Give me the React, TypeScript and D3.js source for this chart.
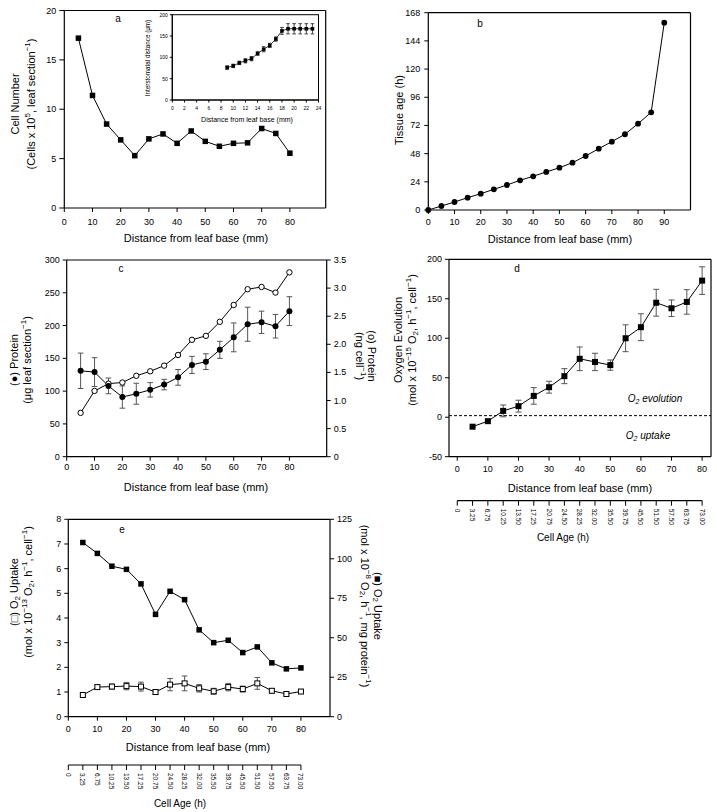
import React from 'react';
import * as d3 from 'd3';

const FONT = '"Liberation Sans", Arial, Helvetica, sans-serif';

// ---------- Panel a ----------
const distA = [5, 10, 15, 20, 25, 30, 35, 40, 45, 50, 55, 60, 65, 70, 75, 80];
const cellNumber = [17.2, 11.4, 8.5, 6.9, 5.3, 7.0, 7.5, 6.55, 7.8, 6.75, 6.25, 6.55, 6.6, 8.05, 7.55, 5.55];
const aTicksX = [0, 10, 20, 30, 40, 50, 60, 70, 80];
const aTicksY = [0, 5, 10, 15, 20];

// inset
const insetDist = [9, 10, 11, 12, 13, 14, 15, 16, 17, 18, 19, 20, 21, 22, 23];
const insetValue = [76, 80, 87, 92, 97, 109, 119, 128, 143, 162, 167, 167, 167, 167, 167];
const insetErr = [4, 4, 4, 5, 5, 4, 6, 5, 5, 8, 12, 12, 12, 12, 12];
const insetTicksX = [0, 2, 4, 6, 8, 10, 12, 14, 16, 18, 20, 22, 24];
const insetTicksY = [0, 50, 100, 150, 200];

// ---------- Panel b ----------
const distB = [0, 5, 10, 15, 20, 25, 30, 35, 40, 45, 50, 55, 60, 65, 70, 75, 80, 85, 90];
const tissueAge = [0, 3.4, 6.8, 10.5, 13.9, 17.6, 21.3, 25.3, 28.7, 32.4, 36, 40.3, 46, 52.2, 58.2, 64.5, 73.5, 83.2, 159.5];
const bTicksX = [0, 10, 20, 30, 40, 50, 60, 70, 80, 90];
const bTicksY = [0, 24, 48, 72, 96, 120, 144, 168];

// ---------- Panel c ----------
const distC = [5, 10, 15, 20, 25, 30, 35, 40, 45, 50, 55, 60, 65, 70, 75, 80];
const proteinSection = [131, 129, 108, 91, 96, 102, 110, 121, 140, 145, 163, 182, 202, 205, 199, 222];
const proteinSectionErr = [27, 22, 12, 17, 16, 11, 8, 12, 13, 12, 13, 22, 26, 17, 18, 22];
const proteinCell = [0.78, 1.17, 1.30, 1.32, 1.44, 1.52, 1.62, 1.81, 2.08, 2.15, 2.40, 2.70, 2.98, 3.02, 2.92, 3.28];
const cTicksX = [0, 10, 20, 30, 40, 50, 60, 70, 80];
const cTicksY = [0, 50, 100, 150, 200, 250, 300];
const cTicksY2 = [0, 0.5, 1.0, 1.5, 2.0, 2.5, 3.0, 3.5];

// ---------- Panel d ----------
const distD = [5, 10, 15, 20, 25, 30, 35, 40, 45, 50, 55, 60, 65, 70, 75, 80];
const o2Evolution = [-12, -5, 8, 14, 27, 38, 52, 74, 70, 66, 100, 114, 145, 138, 146, 173];
const o2EvolutionErr = [0, 0, 7.5, 7.5, 10.5, 7.5, 9.5, 15, 11, 6.5, 17, 17, 17, 10.5, 15.5, 17.5];
const dTicksX = [0, 10, 20, 30, 40, 50, 60, 70, 80];
const dTicksY = [-50, 0, 50, 100, 150, 200];

// ---------- Panel e ----------
const distE = [5, 10, 15, 20, 25, 30, 35, 40, 45, 50, 55, 60, 65, 70, 75, 80];
const o2UptakeCell = [0.88, 1.2, 1.22, 1.24, 1.22, 1.0, 1.3, 1.35, 1.15, 1.03, 1.2, 1.12, 1.35, 1.05, 0.92, 1.02];
const o2UptakeCellErr = [0.05, 0.07, 0.1, 0.15, 0.18, 0.1, 0.25, 0.3, 0.15, 0.12, 0.15, 0.12, 0.24, 0.08, 0.05, 0.05];
const o2UptakeProtein = [110.3, 103.4, 95.3, 93.3, 84.1, 64.8, 79.4, 74.1, 55.0, 46.9, 48.4, 40.6, 44.2, 34.1, 30.3, 30.9];
const eTicksX = [0, 10, 20, 30, 40, 50, 60, 70, 80];
const eTicksY = [0, 1, 2, 3, 4, 5, 6, 7, 8];
const eTicksY2 = [0, 25, 50, 75, 100, 125];

// ---------- Cell age axis ----------
const cellAgeDist = [0, 5, 10, 15, 20, 25, 30, 35, 40, 45, 50, 55, 60, 65, 70, 75, 80];
const cellAgeLabels = ['0', '3.25', '6.75', '10.25', '13.50', '17.25', '20.75', '24.50', '28.25', '32.00', '35.50', '39.75', '45.50', '51.50', '57.50', '63.75', '73.00'];

type Scale = d3.ScaleLinear<number, number>;

function LeftAxis({ x, y, ticks, fs = 9, len = 4, gap = 3, fmt }: { x: number; y: Scale; ticks: number[]; fs?: number; len?: number; gap?: number; fmt?: (t: number) => string }) {
  const r = y.range();
  return (
    <g>
      <line x1={x} x2={x} y1={r[0]} y2={r[1]} stroke="#000" strokeWidth={1.2} />
      {ticks.map((t) => (
        <g key={t}>
          <line x1={x - len} x2={x} y1={y(t)} y2={y(t)} stroke="#000" strokeWidth={1} />
          <text x={x - len - gap} y={y(t)} textAnchor="end" dominantBaseline="central" fontSize={fs}>
            {fmt ? fmt(t) : String(t)}
          </text>
        </g>
      ))}
    </g>
  );
}

function RightAxis({ x, y, ticks, fs = 9, len = 4, gap = 3, fmt }: { x: number; y: Scale; ticks: number[]; fs?: number; len?: number; gap?: number; fmt?: (t: number) => string }) {
  const r = y.range();
  return (
    <g>
      <line x1={x} x2={x} y1={r[0]} y2={r[1]} stroke="#000" strokeWidth={1.2} />
      {ticks.map((t) => (
        <g key={t}>
          <line x1={x} x2={x + len} y1={y(t)} y2={y(t)} stroke="#000" strokeWidth={1} />
          <text x={x + len + gap} y={y(t)} textAnchor="start" dominantBaseline="central" fontSize={fs}>
            {fmt ? fmt(t) : String(t)}
          </text>
        </g>
      ))}
    </g>
  );
}

function BottomAxis({ y, x, ticks, fs = 9, len = 4, labelY, fmt }: { y: number; x: Scale; ticks: number[]; fs?: number; len?: number; labelY: number; fmt?: (t: number) => string }) {
  const r = x.range();
  return (
    <g>
      <line x1={r[0]} x2={r[1]} y1={y} y2={y} stroke="#000" strokeWidth={1.2} />
      {ticks.map((t) => (
        <g key={t}>
          <line x1={x(t)} x2={x(t)} y1={y} y2={y + len} stroke="#000" strokeWidth={1} />
          <text x={x(t)} y={labelY} textAnchor="middle" dominantBaseline="central" fontSize={fs}>
            {fmt ? fmt(t) : String(t)}
          </text>
        </g>
      ))}
    </g>
  );
}

function ErrorBars({ xs, ys, errs, x, y, cap = 2.5, color = '#555' }: { xs: number[]; ys: number[]; errs: number[]; x: Scale; y: Scale; cap?: number; color?: string }) {
  return (
    <g stroke={color} strokeWidth={1}>
      {xs.map((xv, i) =>
        errs[i] > 0 ? (
          <g key={i}>
            <line x1={x(xv)} x2={x(xv)} y1={y(ys[i] - errs[i])} y2={y(ys[i] + errs[i])} />
            <line x1={x(xv) - cap} x2={x(xv) + cap} y1={y(ys[i] - errs[i])} y2={y(ys[i] - errs[i])} />
            <line x1={x(xv) - cap} x2={x(xv) + cap} y1={y(ys[i] + errs[i])} y2={y(ys[i] + errs[i])} />
          </g>
        ) : null
      )}
    </g>
  );
}

function linePath(xs: number[], ys: number[], x: Scale, y: Scale) {
  const gen = d3
    .line<number>()
    .x((_, i) => x(xs[i]))
    .y((v) => y(v));
  return gen(ys) || '';
}

function Squares({ xs, ys, x, y, size, fill = '#000' }: { xs: number[]; ys: number[]; x: Scale; y: Scale; size: number; fill?: string }) {
  return (
    <g>
      {xs.map((xv, i) => (
        <rect key={i} x={x(xv) - size / 2} y={y(ys[i]) - size / 2} width={size} height={size} fill={fill} stroke="#000" strokeWidth={fill === '#000' ? 0 : 1} />
      ))}
    </g>
  );
}

function Circles({ xs, ys, x, y, r, fill = '#000' }: { xs: number[]; ys: number[]; x: Scale; y: Scale; r: number; fill?: string }) {
  return (
    <g>
      {xs.map((xv, i) => (
        <circle key={i} cx={x(xv)} cy={y(ys[i])} r={r} fill={fill} stroke="#000" strokeWidth={fill === '#000' ? 0 : 1} />
      ))}
    </g>
  );
}

function CellAgeAxis({ x, y, titleX, titleY }: { x: Scale; y: number; titleX: number; titleY: number }) {
  return (
    <g>
      <line x1={x(0)} x2={x(80)} y1={y} y2={y} stroke="#000" strokeWidth={1.2} />
      {cellAgeDist.map((d, i) => (
        <g key={d}>
          <line x1={x(d)} x2={x(d)} y1={y} y2={y + 5} stroke="#000" strokeWidth={1} />
          <text transform={`translate(${x(d)},${y + 8}) rotate(90)`} textAnchor="start" dominantBaseline="central" fontSize={6.5}>
            {cellAgeLabels[i]}
          </text>
        </g>
      ))}
      <text x={titleX} y={titleY} textAnchor="middle" dominantBaseline="central" fontSize={10}>
        Cell Age (h)
      </text>
    </g>
  );
}

function PanelA() {
  const x = d3.scaleLinear().domain([0, 92.7]).range([64.3, 325.7]);
  const y = d3.scaleLinear().domain([0, 20]).range([208, 10.5]);
  const xi = d3.scaleLinear().domain([0, 24]).range([172.3, 318.5]);
  const yi = d3.scaleLinear().domain([0, 200]).range([100, 14.7]);
  return (
    <g>
      <line x1={x(0)} x2={x(92.7)} y1={y(20)} y2={y(20)} stroke="#000" strokeWidth={1.2} />
      <line x1={x(92.7)} x2={x(92.7)} y1={y(20)} y2={y(0)} stroke="#000" strokeWidth={1.2} />
      <LeftAxis x={x(0)} y={y} ticks={aTicksY} len={5} />
      <BottomAxis y={y(0)} x={x} ticks={aTicksX} labelY={222} />
      <path d={linePath(distA, cellNumber, x, y)} fill="none" stroke="#000" strokeWidth={1} />
      <Squares xs={distA} ys={cellNumber} x={x} y={y} size={5.5} />
      <text x={118} y={18} textAnchor="middle" dominantBaseline="central" fontSize={10}>a</text>
      <text x={196} y={238} textAnchor="middle" dominantBaseline="central" fontSize={11}>Distance from leaf base (mm)</text>
      <text transform="translate(15,104) rotate(-90)" textAnchor="middle" dominantBaseline="central" fontSize={11}>Cell Number</text>
      <text transform="translate(31,104) rotate(-90)" textAnchor="middle" dominantBaseline="central" fontSize={11}>
        (Cells x 10<tspan dy={-4} fontSize={8}>5</tspan><tspan dy={4}>, leaf section</tspan><tspan dy={-4} fontSize={8}>−1</tspan><tspan dy={4}>)</tspan>
      </text>
      {/* inset */}
      <rect x={xi(0)} y={yi(200)} width={xi(24) - xi(0)} height={yi(0) - yi(200)} fill="#fff" stroke="#000" strokeWidth={1} />
      <LeftAxis x={xi(0)} y={yi} ticks={insetTicksY} fs={5} len={2.5} gap={2} />
      <BottomAxis y={yi(0)} x={xi} ticks={insetTicksX} fs={5} len={2.5} labelY={108} />
      <path d={linePath(insetDist, insetValue, xi, yi)} fill="none" stroke="#000" strokeWidth={0.8} />
      <ErrorBars xs={insetDist} ys={insetValue} errs={insetErr} x={xi} y={yi} cap={1.8} color="#444" />
      <Squares xs={insetDist} ys={insetValue} x={xi} y={yi} size={3.6} />
      <text x={247} y={119} textAnchor="middle" dominantBaseline="central" fontSize={7}>Distance from leaf base (mm)</text>
      <text transform="translate(147,58) rotate(-90)" textAnchor="middle" dominantBaseline="central" fontSize={6.3}>Interstomatal distance (μm)</text>
    </g>
  );
}

function PanelB() {
  const x = d3.scaleLinear().domain([0, 100]).range([428.3, 690.5]);
  const y = d3.scaleLinear().domain([0, 168]).range([210, 12.7]);
  return (
    <g>
      <line x1={x(0)} x2={x(100)} y1={y(168)} y2={y(168)} stroke="#000" strokeWidth={1.2} />
      <line x1={x(100)} x2={x(100)} y1={y(168)} y2={y(0)} stroke="#000" strokeWidth={1.2} />
      <LeftAxis x={x(0)} y={y} ticks={bTicksY} len={4} gap={4} />
      <BottomAxis y={y(0)} x={x} ticks={bTicksX} labelY={222} />
      <path d={linePath(distB, tissueAge, x, y)} fill="none" stroke="#000" strokeWidth={1} />
      <Circles xs={distB} ys={tissueAge} x={x} y={y} r={2.9} />
      <text x={480} y={23} textAnchor="middle" dominantBaseline="central" fontSize={10}>b</text>
      <text x={560} y={239} textAnchor="middle" dominantBaseline="central" fontSize={11}>Distance from leaf base (mm)</text>
      <text transform="translate(399,110) rotate(-90)" textAnchor="middle" dominantBaseline="central" fontSize={11}>Tissue age (h)</text>
    </g>
  );
}

function PanelC() {
  const x = d3.scaleLinear().domain([0, 93.4]).range([66.7, 326.7]);
  const y = d3.scaleLinear().domain([0, 300]).range([456.7, 260]);
  const y2 = d3.scaleLinear().domain([0, 3.5]).range([456.7, 260]);
  return (
    <g>
      <line x1={x(0)} x2={x(93.4)} y1={260} y2={260} stroke="#000" strokeWidth={1.2} />
      <LeftAxis x={x(0)} y={y} ticks={cTicksY} len={4} />
      <RightAxis x={x(93.4)} y={y2} ticks={cTicksY2} len={4} fmt={(t) => (t === 0 ? '0' : t.toFixed(1))} />
      <BottomAxis y={y(0)} x={x} ticks={cTicksX} labelY={467} />
      <path d={linePath(distC, proteinCell, x, y2)} fill="none" stroke="#000" strokeWidth={1} />
      <path d={linePath(distC, proteinSection, x, y)} fill="none" stroke="#000" strokeWidth={1} />
      <ErrorBars xs={distC} ys={proteinSection} errs={proteinSectionErr} x={x} y={y} cap={2.8} />
      <Circles xs={distC} ys={proteinCell} x={x} y={y2} r={2.7} fill="#fff" />
      <Circles xs={distC} ys={proteinSection} x={x} y={y} r={3} />
      <text x={121} y={268} textAnchor="middle" dominantBaseline="central" fontSize={10}>c</text>
      <text x={196} y={487} textAnchor="middle" dominantBaseline="central" fontSize={11}>Distance from leaf base (mm)</text>
      <text transform="translate(14,360) rotate(-90)" textAnchor="middle" dominantBaseline="central" fontSize={11}>(●) Protein</text>
      <text transform="translate(27,360) rotate(-90)" textAnchor="middle" dominantBaseline="central" fontSize={11}>
        (μg leaf section<tspan dy={-4} fontSize={8}>−1</tspan><tspan dy={4}>)</tspan>
      </text>
      <text transform="translate(372,356) rotate(90)" textAnchor="middle" dominantBaseline="central" fontSize={11}>(o) Protein</text>
      <text transform="translate(360,356) rotate(90)" textAnchor="middle" dominantBaseline="central" fontSize={11}>
        (ng cell<tspan dy={-4} fontSize={8}>−1</tspan><tspan dy={4}>)</tspan>
      </text>
    </g>
  );
}

function PanelD() {
  const x = d3.scaleLinear().domain([-2.7, 82.9]).range([449, 711]);
  const y = d3.scaleLinear().domain([-50, 200]).range([456.7, 259.3]);
  return (
    <g>
      <line x1={449} x2={711} y1={y(200)} y2={y(200)} stroke="#000" strokeWidth={1.2} />
      <line x1={711} x2={711} y1={y(200)} y2={y(-50)} stroke="#000" strokeWidth={1.2} />
      <LeftAxis x={449} y={y} ticks={dTicksY} len={4} />
      <BottomAxis y={y(-50)} x={x} ticks={dTicksX} labelY={468.5} />
      <line x1={449} x2={711} y1={y(2)} y2={y(2)} stroke="#000" strokeWidth={1} strokeDasharray="3,2" />
      <path d={linePath(distD, o2Evolution, x, y)} fill="none" stroke="#000" strokeWidth={1} />
      <ErrorBars xs={distD} ys={o2Evolution} errs={o2EvolutionErr} x={x} y={y} cap={3} />
      <Squares xs={distD} ys={o2Evolution} x={x} y={y} size={6} />
      <text x={517} y={268} textAnchor="middle" dominantBaseline="central" fontSize={10}>d</text>
      <text x={655} y={398} textAnchor="middle" dominantBaseline="central" fontSize={10} fontStyle="italic">
        O<tspan dy={2.5} fontSize={7}>2</tspan><tspan dy={-2.5}>  evolution</tspan>
      </text>
      <text x={648} y={435} textAnchor="middle" dominantBaseline="central" fontSize={10} fontStyle="italic">
        O<tspan dy={2.5} fontSize={7}>2</tspan><tspan dy={-2.5}>  uptake</tspan>
      </text>
      <text x={580} y={488} textAnchor="middle" dominantBaseline="central" fontSize={11}>Distance from leaf base (mm)</text>
      <text transform="translate(398,340) rotate(-90)" textAnchor="middle" dominantBaseline="central" fontSize={11}>Oxygen Evolution</text>
      <text transform="translate(412,340) rotate(-90)" textAnchor="middle" dominantBaseline="central" fontSize={11}>
        (mol x 10<tspan dy={-4} fontSize={8}>−15</tspan><tspan dy={4}>  O</tspan><tspan dy={2.5} fontSize={8}>2</tspan><tspan dy={-2.5}>, h</tspan><tspan dy={-4} fontSize={8}>−1</tspan><tspan dy={4}>, cell</tspan><tspan dy={-4} fontSize={8}>−1</tspan><tspan dy={4}>)</tspan>
      </text>
      <CellAgeAxis x={x} y={500.7} titleX={563} titleY={537} />
    </g>
  );
}

function PanelE() {
  const x = d3.scaleLinear().domain([0, 90]).range([68.3, 330]);
  const y = d3.scaleLinear().domain([0, 8]).range([716.7, 519.3]);
  const y2 = d3.scaleLinear().domain([0, 125]).range([716.7, 519.3]);
  return (
    <g>
      <line x1={x(0)} x2={x(90)} y1={y(8)} y2={y(8)} stroke="#000" strokeWidth={1.2} />
      <LeftAxis x={x(0)} y={y} ticks={eTicksY} len={4} />
      <RightAxis x={x(90)} y={y2} ticks={eTicksY2} len={4} />
      <BottomAxis y={y(0)} x={x} ticks={eTicksX} labelY={728.5} />
      <path d={linePath(distE, o2UptakeProtein, x, y2)} fill="none" stroke="#000" strokeWidth={1} />
      <path d={linePath(distE, o2UptakeCell, x, y)} fill="none" stroke="#000" strokeWidth={1} />
      <ErrorBars xs={distE} ys={o2UptakeCell} errs={o2UptakeCellErr} x={x} y={y} cap={2.8} />
      <Squares xs={distE} ys={o2UptakeProtein} x={x} y={y2} size={5.5} />
      <Squares xs={distE} ys={o2UptakeCell} x={x} y={y} size={5} fill="#fff" />
      <text x={122} y={529} textAnchor="middle" dominantBaseline="central" fontSize={10}>e</text>
      <text x={198} y={747} textAnchor="middle" dominantBaseline="central" fontSize={11}>Distance from leaf base (mm)</text>
      <text transform="translate(14,592) rotate(-90)" textAnchor="middle" dominantBaseline="central" fontSize={11}>
        (□) O<tspan dy={2.5} fontSize={8}>2</tspan><tspan dy={-2.5}> Uptake</tspan>
      </text>
      <text transform="translate(28,592) rotate(-90)" textAnchor="middle" dominantBaseline="central" fontSize={11}>
        (mol x 10<tspan dy={-4} fontSize={8}>−13</tspan><tspan dy={4}>  O</tspan><tspan dy={2.5} fontSize={8}>2</tspan><tspan dy={-2.5}>, h</tspan><tspan dy={-4} fontSize={8}>−1</tspan><tspan dy={4}>, cell</tspan><tspan dy={-4} fontSize={8}>−1</tspan><tspan dy={4}>)</tspan>
      </text>
      <text transform="translate(378,606) rotate(90)" textAnchor="middle" dominantBaseline="central" fontSize={11}>
        (■) O<tspan dy={2.5} fontSize={8}>2</tspan><tspan dy={-2.5}> Uptake</tspan>
      </text>
      <text transform="translate(365,606) rotate(90)" textAnchor="middle" dominantBaseline="central" fontSize={11}>
        (mol x 10<tspan dy={-4} fontSize={8}>−8</tspan><tspan dy={4}>  O</tspan><tspan dy={2.5} fontSize={8}>2</tspan><tspan dy={-2.5}>, h</tspan><tspan dy={-4} fontSize={8}>−1</tspan><tspan dy={4}>, mg protein</tspan><tspan dy={-4} fontSize={8}>−1</tspan><tspan dy={4}>)</tspan>
      </text>
      <CellAgeAxis x={x} y={765} titleX={180} titleY={803} />
    </g>
  );
}

export default function App() {
  return (
    <svg width={717} height={812} style={{ position: 'absolute', left: 0, top: 0, display: 'block' }} fontFamily={FONT}>
      <rect width={717} height={812} fill="#fff" />
      <PanelA />
      <PanelB />
      <PanelC />
      <PanelD />
      <PanelE />
    </svg>
  );
}
